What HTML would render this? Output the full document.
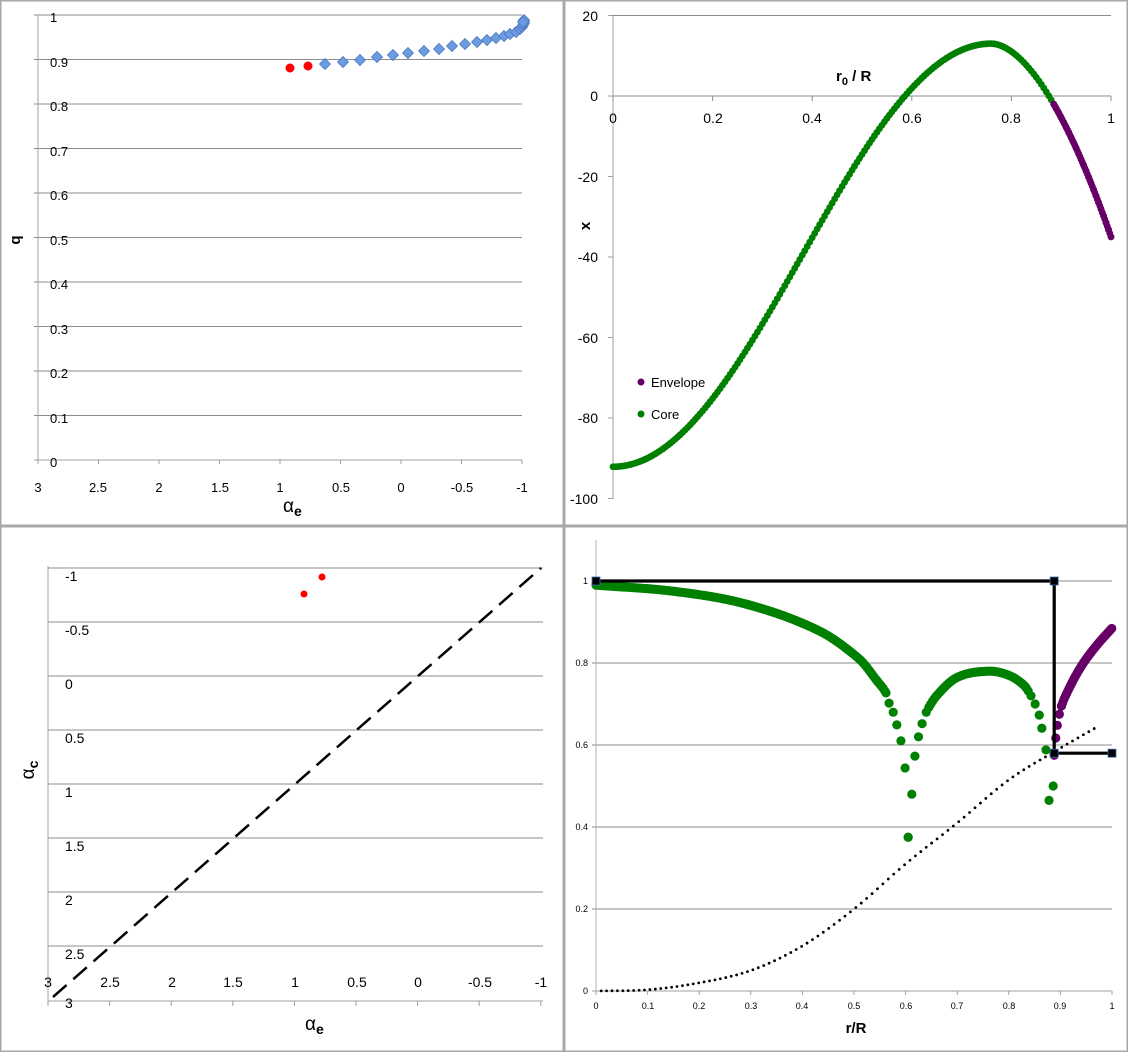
<!DOCTYPE html>
<html><head><meta charset="utf-8"><style>
html,body{margin:0;padding:0;background:#fff}
svg{display:block;font-family:"Liberation Sans",sans-serif}
</style></head><body>
<svg id="s" width="1128" height="1052" viewBox="0 0 1128 1052" xmlns="http://www.w3.org/2000/svg">
<rect x="0" y="0" width="1128" height="1052" fill="#fff"/>
<g fill="none" stroke="#a8a8a8" stroke-width="1.5">
<rect x="0.75" y="0.75" width="562.5" height="524.5"/>
<rect x="564.75" y="0.75" width="562.5" height="524.5"/>
<rect x="0.75" y="526.75" width="562.5" height="524.5"/>
<rect x="564.75" y="526.75" width="562.5" height="524.5"/>
</g>
<g id="tl"></g><g id="tr"></g><g id="bl"></g><g id="br"></g>

<!-- static text -->
<g font-size="13" fill="#000">
<text x="50" y="22">1</text><text x="50" y="67">0.9</text><text x="50" y="111">0.8</text><text x="50" y="156">0.7</text><text x="50" y="200">0.6</text><text x="50" y="245">0.5</text><text x="50" y="289">0.4</text><text x="50" y="334">0.3</text><text x="50" y="378">0.2</text><text x="50" y="423">0.1</text><text x="50" y="467">0</text>
</g>
<g font-size="13" text-anchor="middle">
<text x="38" y="492">3</text><text x="98" y="492">2.5</text><text x="159" y="492">2</text><text x="220" y="492">1.5</text><text x="280" y="492">1</text><text x="341" y="492">0.5</text><text x="401" y="492">0</text><text x="462" y="492">-0.5</text><text x="522" y="492">-1</text>
</g>
<text x="283" y="512" font-size="19">α<tspan font-size="14" dy="4" font-weight="bold">e</tspan></text>
<text transform="translate(20,240) rotate(-90)" font-size="15" font-weight="bold" text-anchor="middle">q</text>

<g font-size="14" text-anchor="end">
<text x="598" y="21">20</text><text x="598" y="101">0</text><text x="598" y="182">-20</text><text x="598" y="262">-40</text><text x="598" y="343">-60</text><text x="598" y="423">-80</text><text x="598" y="504">-100</text>
</g>
<g font-size="14" text-anchor="middle">
<text x="613" y="123">0</text><text x="713" y="123">0.2</text><text x="812" y="123">0.4</text><text x="912" y="123">0.6</text><text x="1011" y="123">0.8</text><text x="1111" y="123">1</text>
</g>
<text x="836" y="81" font-size="15" font-weight="bold">r<tspan font-size="11" dy="4">0</tspan><tspan dy="-4"> / R</tspan></text>
<text transform="translate(590,226) rotate(-90)" font-size="15" font-weight="bold" text-anchor="middle">x</text>
<circle cx="641" cy="382" r="3.5" fill="#660066"/><text x="651" y="387" font-size="13">Envelope</text>
<circle cx="641" cy="414" r="3.5" fill="#008000"/><text x="651" y="419" font-size="13">Core</text>

<g font-size="14">
<text x="65" y="581">-1</text><text x="65" y="635">-0.5</text><text x="65" y="689">0</text><text x="65" y="743">0.5</text><text x="65" y="797">1</text><text x="65" y="851">1.5</text><text x="65" y="905">2</text><text x="65" y="959">2.5</text><text x="65" y="1008">3</text>
</g>
<g font-size="14" text-anchor="middle">
<text x="48" y="987">3</text><text x="110" y="987">2.5</text><text x="172" y="987">2</text><text x="233" y="987">1.5</text><text x="295" y="987">1</text><text x="357" y="987">0.5</text><text x="418" y="987">0</text><text x="480" y="987">-0.5</text><text x="541" y="987">-1</text>
</g>
<text x="305" y="1030" font-size="19">α<tspan font-size="14" dy="4" font-weight="bold">e</tspan></text>
<text transform="translate(34,770) rotate(-90)" font-size="19" text-anchor="middle">α<tspan font-size="14" dy="4" font-weight="bold">c</tspan></text>

<g font-size="9" text-anchor="end">
<text x="588" y="584">1</text><text x="588" y="666">0.8</text><text x="588" y="748">0.6</text><text x="588" y="830">0.4</text><text x="588" y="912">0.2</text><text x="588" y="994">0</text>
</g>
<g font-size="9" text-anchor="middle">
<text x="596" y="1009">0</text><text x="648" y="1009">0.1</text><text x="699" y="1009">0.2</text><text x="751" y="1009">0.3</text><text x="802" y="1009">0.4</text><text x="854" y="1009">0.5</text><text x="906" y="1009">0.6</text><text x="957" y="1009">0.7</text><text x="1009" y="1009">0.8</text><text x="1060" y="1009">0.9</text><text x="1112" y="1009">1</text>
</g>
<text x="856" y="1033" font-size="15" font-weight="bold" text-anchor="middle">r/R</text>
</svg>
<script>
var NS="http://www.w3.org/2000/svg";
function el(g,t,a){var e=document.createElementNS(NS,t);for(var k in a)e.setAttribute(k,a[k]);document.getElementById(g).appendChild(e);return e;}
function interp(tab,r){for(var i=0;i<tab.length-1;i++){if(r<=tab[i+1][0]){var a=tab[i],b=tab[i+1];var t=(r-a[0])/(b[0]-a[0]);return a[1]+t*(b[1]-a[1]);}}return tab[tab.length-1][1];}
// smooth interp (catmull-rom)
function cr(tab,r){var n=tab.length;var i=0;while(i<n-2&&r>tab[i+1][0])i++;var p0=tab[Math.max(i-1,0)],p1=tab[i],p2=tab[i+1],p3=tab[Math.min(i+2,n-1)];var t=(r-p1[0])/(p2[0]-p1[0]);var m1=(p2[1]-p0[1])/(p2[0]-p0[0])*(p2[0]-p1[0]);var m2=(p3[1]-p1[1])/(p3[0]-p1[0])*(p2[0]-p1[0]);var t2=t*t,t3=t2*t;return (2*t3-3*t2+1)*p1[1]+(t3-2*t2+t)*m1+(-2*t3+3*t2)*p2[1]+(t3-t2)*m2;}

// ---- TL ----
var gc="#8c8c8c";
for(var i=0;i<=10;i++){var y=460-i*44.5;el("tl","line",{x1:34,y1:y,x2:522,y2:y,stroke:i==0?"#a0a0a0":gc,"stroke-width":1});}
el("tl","line",{x1:38,y1:15,x2:38,y2:460,stroke:"#a0a0a0"});
for(var i=0;i<=8;i++){var x=38+i*60.5;el("tl","line",{x1:x,y1:460,x2:x,y2:464,stroke:"#a0a0a0"});}
var bx=[325,343,360,377,393,408,424,439,452,465,477,487,496,504,510,516,520,522,523,524,524,524,523];
var by=[64,62,60,57,55,53,51,49,46,44,42,40,38,36,34,32,29,27,25,23,21,20,22];
for(var i=0;i<bx.length;i++){var x=bx[i],y=by[i],s=5.5;el("tl","polygon",{points:(x)+","+(y-s)+" "+(x+s)+","+y+" "+x+","+(y+s)+" "+(x-s)+","+y,fill:"#6d9be0",stroke:"#4a78c0","stroke-width":0.8});}
el("tl","circle",{cx:290,cy:68,r:4.5,fill:"#f00"});
el("tl","circle",{cx:308,cy:66,r:4.5,fill:"#f00"});

// ---- TR ----
el("tr","line",{x1:613,y1:15.5,x2:1111,y2:15.5,stroke:gc});
el("tr","line",{x1:613,y1:15.5,x2:613,y2:499,stroke:"#a0a0a0"});
el("tr","line",{x1:608,y1:96,x2:1111,y2:96,stroke:gc});
for(var i=0;i<=5;i++){var x=613+i*99.6;el("tr","line",{x1:x,y1:96,x2:x,y2:101,stroke:gc});}
for(var i=0;i<=6;i++){var y=15.5+i*80.5;el("tr","line",{x1:608,y1:y,x2:613,y2:y,stroke:"#a0a0a0"});}
function fx(r){if(r<=0.76)return -39.5-52.5*Math.cos(Math.PI*r/0.76);return 13-608*Math.pow(r-0.76,1.78);}
for(var r=0;r<=1.0001;r+=0.005){var x=613+r*498,y=96-fx(r)*4.03;el("tr","circle",{cx:x,cy:y,r:3.4,fill:r>=0.885?"#660066":"#008000"});}
for(var r=0.885;r<=1.0001;r+=0.0025){var x=613+r*498,y=96-fx(r)*4.03;el("tr","circle",{cx:x,cy:y,r:3.4,fill:"#660066"});}

// ---- BL ----
function BX(a){return 48+(3-a)*123.25;} function BY(c){return 568+(c+1)*108;}
for(var c=-1;c<=2.6;c+=0.5){el("bl","line",{x1:48,y1:BY(c),x2:543,y2:BY(c),stroke:gc});}
el("bl","line",{x1:48,y1:566,x2:48,y2:1001,stroke:"#a0a0a0"});
el("bl","line",{x1:48,y1:1001,x2:543,y2:1001,stroke:"#a0a0a0"});
for(var i=0;i<=8;i++){var x=48+i*61.6;el("bl","line",{x1:x,y1:1001,x2:x,y2:1006,stroke:"#a0a0a0"});}
el("bl","line",{x1:53,y1:997,x2:BX(-1),y2:BY(-1),stroke:"#000","stroke-width":2.5,"stroke-dasharray":"18,9"});
el("bl","circle",{cx:322,cy:577,r:3.5,fill:"#f00"});
el("bl","circle",{cx:304,cy:594,r:3.5,fill:"#f00"});

// ---- BR ----
function RX(r){return 596+r*516;} function RY(v){return 991-v*410;}
for(var i=0;i<=5;i++){var y=RY(i*0.2);el("br","line",{x1:592,y1:y,x2:1112,y2:y,stroke:i==0?"#a0a0a0":gc});}
el("br","line",{x1:596,y1:540,x2:596,y2:991,stroke:"#b0b0b0"});
for(var i=0;i<=10;i++){var x=RX(i/10);el("br","line",{x1:x,y1:991,x2:x,y2:995,stroke:"#a0a0a0"});}
var dot=[[0,0],[.1,.003],[.2,.02],[.3,.05],[.4,.11],[.5,.2],[.6,.31],[.7,.41],[.8,.515],[.89,.585],[1,.665]];
for(var r=0.01;r<=0.975;r+=0.0105){el("br","circle",{cx:RX(r),cy:RY(cr(dot,r)),r:1.4,fill:"#000"});}
var a1=[[0,.99],[.15,.975],[.29,.944],[.43,.88],[.51,.81],[.545,.756],[.562,.727],[.568,.702],[.576,.68],[.583,.649],[.591,.61],[.599,.544],[.605,.375]];
var a2=[[.605,.375],[.612,.48],[.618,.573],[.625,.62],[.632,.652],[.64,.68],[.66,.72],[.7,.765],[.76,.78],[.8,.77],[.83,.745],[.843,.72],[.851,.70],[.859,.673],[.864,.641],[.872,.588],[.878,.465]];
var env=[[.888,.575],[.891,.617],[.894,.648],[.898,.675],[.902,.695],[.91,.72],[.93,.77],[.95,.81],[.975,.85],[1,.885]];
var G="#008000",P="#660066";
function pt(r,v,c){el("br","circle",{cx:RX(r),cy:RY(v),r:4.6,fill:c});}
for(var r=0;r<0.56;r+=0.0035)pt(r,cr(a1,r),G);
for(var i=5;i<a1.length;i++)pt(a1[i][0],a1[i][1],G);
for(var i=0;i<6;i++)pt(a2[i][0],a2[i][1],G);
for(var r=0.645;r<0.84;r+=0.0035)pt(r,cr(a2,r),G);
for(var i=11;i<a2.length;i++)pt(a2[i][0],a2[i][1],G);
pt(.886,.5,G);
for(var i=0;i<5;i++)pt(env[i][0],env[i][1],P);
for(var r=0.902;r<=1.0001;r+=0.0025)pt(r,cr(env,r),P);
// black step line
el("br","polyline",{points:RX(0)+","+RY(1)+" "+RX(.888)+","+RY(1)+" "+RX(.888)+","+RY(.58)+" "+RX(1)+","+RY(.58),fill:"none",stroke:"#000","stroke-width":3.2});
[[0,1],[.888,1],[.888,.58],[1,.58]].forEach(function(p){el("br","rect",{x:RX(p[0])-4,y:RY(p[1])-4,width:8,height:8,fill:"#000",stroke:"#3a6fb0","stroke-width":0.8});});
</script>
</body></html>
